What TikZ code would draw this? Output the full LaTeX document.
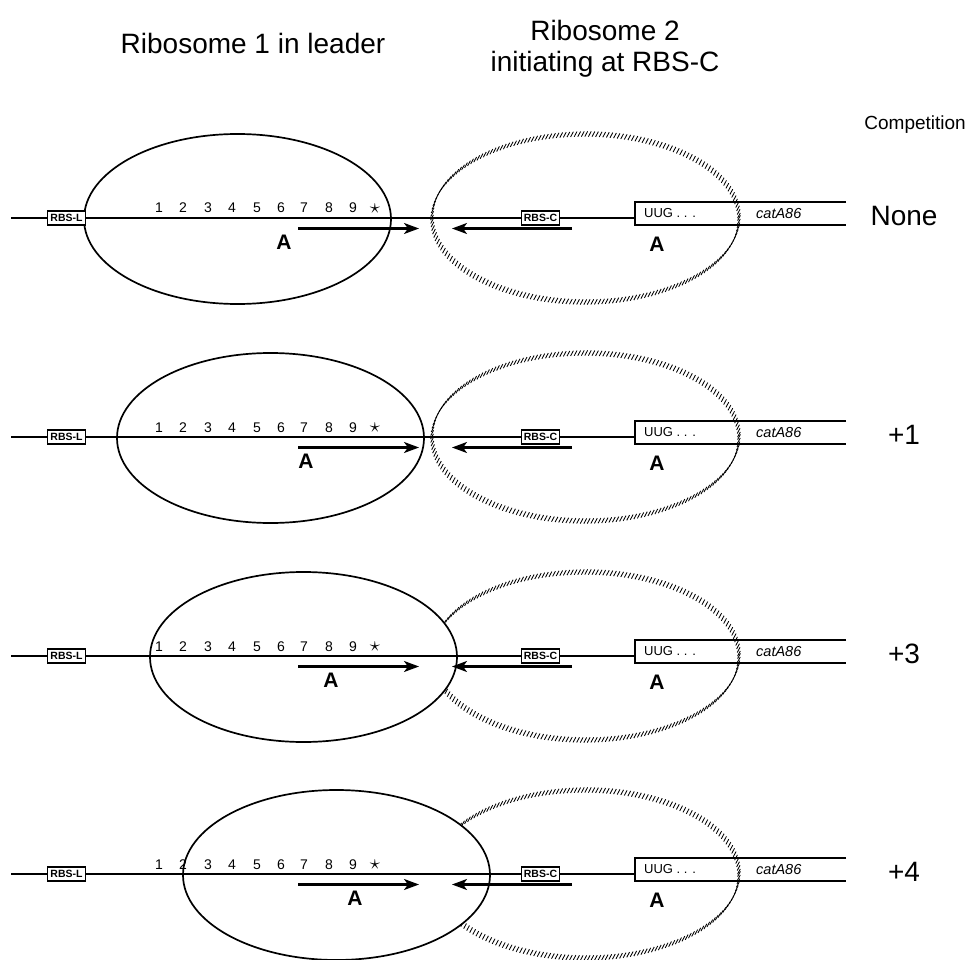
\documentclass[tikz,border=0pt]{standalone}
\usepackage{fontspec}
\setmainfont{Liberation Sans}
\usetikzlibrary{arrows.meta,decorations.markings}

\tikzset{
  px/.style={x=1pt,y=-1pt},
  mrna/.style={line width=1.5pt},
  leaderribo/.style={line width=1.7pt,fill=white},
  hatched/.style={decorate,decoration={markings,
      mark=between positions 0 and 1 step 3.6pt with {
        \pgftransformresetnontranslations
        \draw[line width=0.85pt] (-1.4pt,-2.6pt) -- (1.4pt,2.6pt);}}},
  rbsbox/.style={draw,line width=1.5pt,fill=white,minimum width=38pt,
      minimum height=14pt,inner sep=0pt,font=\bfseries\fontsize{10.5}{10.5}\selectfont},
  codon/.style={anchor=base,inner sep=0pt,font=\fontsize{14}{14}\selectfont},
  frameA/.style={inner sep=0pt,font=\bfseries\fontsize{21}{21}\selectfont},
  runarrow/.style={line width=2.2pt,-{Stealth[length=15pt,width=11pt,inset=4pt]}},
  genetext/.style={anchor=west,inner sep=0pt,font=\fontsize{13}{13}\selectfont},
  header/.style={inner sep=0pt,font=\fontsize{28}{28}\selectfont},
  comp/.style={inner sep=0pt,font=\fontsize{28}{28}\selectfont},
}

\begin{document}
\begin{tikzpicture}[px]
\useasboundingbox (0,0) rectangle (967,960);

% column headings
\node[header] (h1) at (253,43) {Ribosome 1 in leader};
\node[header] (h2a) at (605,30) {Ribosome 2};
\node[header] (h2b) at (605,64) {initiating at RBS-C};
\node[inner sep=0pt,anchor=east,font=\fontsize{19}{19}\selectfont] (hc) at (966,125) {Competition};

% one row per competition case
\foreach \k/\y/\lab/\ax in {0/218/None/284, 1/437/+1/306, 2/656/+3/331, 3/874/+4/355}{
  % ribosome 2 (hatched outline), partly hidden behind ribosome 1
  \path[hatched] (585.5,\y) ellipse [x radius=153.5, y radius=84];
  % ribosome 1 in the leader
  \draw[leaderribo] ({237.5+33*\k},\y+1) ellipse [x radius=153.5, y radius=85];

  % mRNA
  \coordinate (m0-\k) at (11,\y);
  \coordinate (m1-\k) at (635,\y);
  \draw[mrna] (m0-\k) -- (m1-\k);
  % catA86 coding region
  \coordinate (gtl-\k) at (635,\y-16);
  \coordinate (gtr-\k) at (846,\y-16);
  \coordinate (gbl-\k) at (635,\y+7);
  \coordinate (gbr-\k) at (846,\y+7);
  \draw[mrna] (gtr-\k) -- (gtl-\k) -- (gbl-\k) -- (gbr-\k);
  \node[genetext] (uug-\k) at (644,\y-4.5) {UUG . . .};
  \node[genetext,font=\itshape\fontsize{14.5}{14.5}\selectfont] (cat-\k) at (756,\y-4.5) {catA86};

  % ribosome binding sites
  \node[rbsbox] (rbsl-\k) at (66.5,\y) {RBS-L};
  \node[rbsbox] (rbsc-\k) at (540.5,\y) {RBS-C};

  % leader codons
  \foreach \i/\cx in {1/159,2/183,3/208,4/232,5/257,6/281,7/304,8/329,9/353}{
    \node[codon] (c\i-\k) at (\cx,\y-5) {\i};
  }
  \node[inner sep=0pt,font=\fontsize{22}{22}\selectfont] (cs-\k) at (375,\y-9) {$\star$};

  % reading frames
  \coordinate (ra-\k) at (298,\y+10.5);
  \coordinate (rb-\k) at (419,\y+10.5);
  \draw[runarrow] (ra-\k) -- (rb-\k);
  \coordinate (la-\k) at (572,\y+10.5);
  \coordinate (lb-\k) at (452,\y+10.5);
  \draw[runarrow] (la-\k) -- (lb-\k);
  \node[frameA] (fa-\k) at (\ax,\y+24) {A};
  \node[frameA] (fb-\k) at (657,\y+26) {A};

  % competition label
  \node[comp] (lab-\k) at (904,\y-2) {\lab};
}
\end{tikzpicture}
\end{document}
